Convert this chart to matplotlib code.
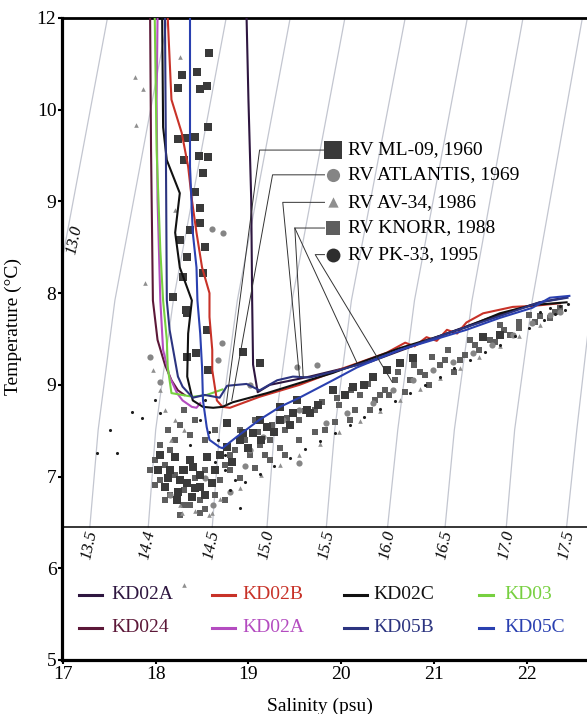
import matplotlib
matplotlib.use('Agg')
import matplotlib.pyplot as plt

plt.rcParams['font.family'] = ['Liberation Serif', 'DejaVu Serif']

# CTD profiles (salinity, temperature)
kd02a_s = [18.98, 19.00, 19.03, 19.04, 19.05, 19.10, 19.23, 19.66, 20.31, 20.95, 21.60, 22.14, 22.41]
kd02a_t = [12.0, 11.11, 10.02, 8.92, 8.22, 7.92, 8.00, 8.09, 8.25, 8.49, 8.73, 8.90, 8.95]
kd02b_s = [18.13, 18.17, 18.28, 18.35, 18.39, 18.44, 18.50, 18.58, 18.58, 18.61, 18.61, 18.66, 18.72, 18.80,
           19.12, 19.55, 20.02, 20.49, 20.69, 20.79, 20.92, 21.03, 21.14, 21.25, 21.35, 21.53, 21.85, 22.06, 22.36]
kd02b_t = [12.0, 11.11, 10.75, 10.38, 10.02, 9.66, 9.28, 9.00, 8.74, 8.38, 8.16, 7.83, 7.76, 7.75,
           7.87, 8.00, 8.18, 8.35, 8.46, 8.42, 8.52, 8.48, 8.60, 8.56, 8.68, 8.78, 8.85, 8.86, 8.89]
kd02c_s = [18.07, 18.08, 18.12, 18.26, 18.21, 18.26, 18.39, 18.35, 18.34, 18.40, 18.51, 18.62, 18.72, 18.83,
           19.20, 19.55, 19.91, 20.28, 20.63, 20.99, 21.35, 21.71, 22.06, 22.43]
kd02c_t = [12.0, 10.81, 10.45, 10.09, 9.66, 9.28, 8.92, 8.56, 8.09, 7.83, 7.76, 7.75, 7.76, 7.81,
           7.91, 8.02, 8.13, 8.27, 8.40, 8.51, 8.63, 8.78, 8.87, 8.90]
kd03_s = [17.99, 18.01, 18.05, 18.08, 18.12, 18.13, 18.17, 18.40, 18.55, 18.72]
kd03_t = [12.0, 10.56, 9.47, 8.92, 8.49, 8.19, 7.91, 7.87, 7.89, 7.95]
kd024_s = [17.94, 17.95, 17.97, 18.02, 18.10, 18.17, 18.24, 18.31]
kd024_t = [12.0, 10.56, 8.92, 8.49, 8.22, 8.05, 7.94, 7.89]
kd02a2_s = [18.02, 18.01, 18.02, 18.05, 18.08, 18.15, 18.23, 18.29, 18.39, 18.44, 18.48]
kd02a2_t = [12.0, 11.11, 10.02, 8.92, 8.38, 8.09, 7.91, 7.83, 7.76, 7.75, 7.80]
kd05b_s = [18.10, 18.11, 18.12, 18.15, 18.24, 18.29, 18.40, 18.53, 18.69, 18.77, 18.98, 19.12, 19.31,
           19.48, 19.66, 19.98, 20.28, 20.63, 21.17, 21.71, 22.14, 22.44]
kd05b_t = [12.0, 10.56, 8.92, 8.60, 8.09, 7.98, 7.86, 7.89, 7.86, 7.99, 8.01, 7.94, 8.05,
           8.09, 8.08, 8.16, 8.25, 8.38, 8.57, 8.75, 8.90, 8.95]
kd05c_s = [18.37, 18.37, 18.40, 18.44, 18.45, 18.48, 18.50, 18.51, 18.55, 18.58, 18.69, 18.72, 18.87,
           19.12, 19.34, 19.55, 19.91, 20.17, 20.63, 20.99, 21.35, 21.71, 22.06, 22.25, 22.46]
kd05c_t = [12.0, 10.38, 9.66, 9.28, 8.92, 8.56, 8.19, 7.83, 7.54, 7.40, 7.32, 7.31, 7.43,
           7.62, 7.76, 7.86, 8.05, 8.19, 8.38, 8.49, 8.60, 8.73, 8.84, 8.95, 8.97]

# historical cruises
ml09_s = [18.57, 18.28, 18.45, 18.24, 18.55, 18.48, 18.34, 18.42, 18.56, 18.24, 18.47, 18.31, 18.51, 18.56,
          18.48, 18.37, 18.48, 18.26, 18.34, 18.51, 18.29, 18.19, 18.33, 18.53, 18.42, 18.34, 18.55, 18.44,
          18.94, 19.12, 18.34, 18.56, 18.21, 18.26, 18.34, 18.40, 18.48, 18.23, 18.39, 18.55, 18.77, 18.91,
          19.05, 19.20, 19.34, 19.48, 19.63, 18.77, 18.94, 19.12, 19.34, 19.52, 19.66, 19.91, 20.13, 20.34,
          20.49, 20.63, 20.77, 21.53, 21.71, 18.15, 18.29, 18.10, 18.37,
          18.05, 18.13, 18.31, 18.42, 18.53, 18.64, 18.69, 18.82, 18.24, 18.48, 18.61, 18.02, 18.99, 19.14,
          19.28, 19.45, 19.75, 20.04, 20.25]
ml09_t = [11.62, 11.38, 11.41, 11.24, 11.26, 11.23, 10.69, 10.70, 10.81, 10.68, 10.50, 10.45, 10.31, 10.48,
          9.93, 9.69, 9.76, 9.58, 9.39, 9.22, 9.18, 8.96, 8.82, 9.50, 10.10, 8.78, 8.60, 8.35,
          8.36, 8.24, 8.30, 8.16, 7.21, 6.96, 6.93, 7.10, 6.89, 6.74, 6.78, 7.21, 7.32, 7.40,
          7.47, 7.54, 7.62, 7.69, 7.73, 7.58, 7.47, 7.62, 7.76, 7.83, 7.69, 7.94, 7.98, 8.09,
          8.16, 8.24, 8.29, 8.52, 8.54, 7.07, 7.07, 6.89, 7.18,
          7.23, 6.98, 7.07, 6.87, 6.80, 7.07, 7.23, 7.16, 6.83, 7.02, 6.93, 7.07, 7.31, 7.40,
          7.49, 7.56, 7.78, 7.89, 8.00]
atl_s = [18.61, 18.73, 18.72, 17.94, 19.02, 18.05, 18.67, 19.52, 19.74, 19.55, 19.37, 19.16, 19.02, 19.55,
         19.84, 20.06, 20.34, 20.56, 20.77, 20.99, 21.20, 21.42, 21.63, 21.85, 22.06, 22.25, 22.36,
         18.15, 18.62, 18.80, 18.53, 18.96]
atl_t = [9.70, 9.66, 8.46, 8.30, 8.00, 8.03, 8.27, 8.19, 8.22, 7.73, 7.62, 7.43, 7.29, 7.15,
         7.58, 7.69, 7.80, 7.94, 8.05, 8.16, 8.25, 8.35, 8.43, 8.54, 8.67, 8.76, 8.79,
         6.80, 6.69, 6.83, 6.98, 7.11]
av34_s = [17.78, 17.86, 17.79, 17.88, 18.26, 18.21, 17.97, 18.05, 18.10, 18.21, 18.31, 18.17,
          18.26, 18.42, 18.58, 18.69, 18.91, 19.14, 19.34, 19.55, 19.77, 19.98, 20.20, 20.42, 20.63,
          20.85, 21.06, 21.28, 21.49, 21.71, 21.92, 22.14, 18.31, 18.28, 18.61]
av34_t = [11.36, 11.23, 10.83, 9.11, 11.57, 9.91, 8.16, 7.94, 7.73, 7.62, 7.51, 7.40,
          6.69, 6.63, 6.58, 6.76, 6.87, 7.02, 7.13, 7.23, 7.35, 7.49, 7.61, 7.71, 7.83,
          7.95, 8.07, 8.18, 8.30, 8.42, 8.53, 8.65, 5.82, 6.60, 6.60]
knorr_s = [18.91, 19.07, 19.23, 19.39, 19.55, 19.72, 19.82, 19.98, 20.09, 20.20, 20.31, 20.47, 20.58, 20.69,
           20.85, 20.95, 21.06, 21.22, 21.33, 21.49, 21.66, 21.82, 21.92, 22.09, 22.25, 19.02, 19.18, 19.34,
           19.55, 19.72, 19.93, 20.15, 20.36, 20.52, 20.74, 20.90, 21.12, 21.28, 21.44, 21.60, 21.76, 21.92,
           22.14, 22.30, 18.85, 19.12,
           18.05, 18.15, 18.10, 18.21, 18.31, 18.42, 18.53, 18.05, 18.15, 18.37, 18.48, 18.64, 18.75, 18.21,
           18.26, 18.42, 18.31, 18.53, 18.64, 18.26, 18.48, 17.99, 18.37, 18.80, 18.69, 18.13,
           18.96, 19.10, 19.25, 19.42, 19.61, 19.79, 19.96, 20.11, 20.29, 20.42, 20.61, 20.79, 20.98, 21.15,
           21.39, 18.80, 18.91, 19.07, 19.23, 19.39, 17.94, 17.99, 18.10, 18.31, 18.53, 18.75,
           21.71, 22.03, 22.36]
knorr_t = [7.51, 7.62, 7.40, 7.51, 7.62, 7.73, 7.51, 7.78, 7.62, 7.89, 7.73, 7.94, 8.05, 7.92,
           8.14, 8.00, 8.22, 8.14, 8.33, 8.38, 8.47, 8.54, 8.62, 8.68, 8.73, 7.23, 7.23, 7.31,
           7.40, 7.49, 7.59, 7.73, 7.83, 7.89, 8.05, 8.11, 8.27, 8.27, 8.43, 8.49, 8.60, 8.68,
           8.75, 8.79, 7.29, 7.34,
           7.34, 7.29, 7.13, 7.02, 6.85, 6.98, 7.07, 6.96, 6.80, 6.69, 6.74, 6.80, 7.13, 7.40,
           7.56, 7.62, 7.73, 7.40, 7.51, 6.58, 6.60, 7.18, 7.45, 7.23, 6.96, 7.51,
           7.40, 7.49, 7.56, 7.64, 7.71, 7.81, 7.86, 7.94, 8.01, 7.89, 8.14, 8.22, 8.30, 8.38,
           8.49, 7.07, 6.98, 7.09, 7.18, 7.23, 7.07, 6.91, 6.74, 6.69, 6.65, 6.74,
           8.65, 8.76, 8.84]
pk33_s = [18.80, 18.96, 19.12, 19.28, 19.45, 19.61, 19.77, 19.93, 20.09, 20.25, 20.42, 20.58, 20.74, 20.90,
          21.06, 21.22, 21.39, 21.55, 21.71, 21.87, 22.03, 22.19, 22.30, 22.41, 22.25, 22.36, 22.44, 22.14,
          17.37, 17.51, 17.58, 17.74, 17.85, 17.99, 18.05,
          18.48, 18.58, 18.37, 18.64, 18.75, 18.85, 18.53, 18.67, 18.91, 18.75]
pk33_t = [6.85, 6.94, 7.03, 7.11, 7.20, 7.30, 7.39, 7.47, 7.56, 7.65, 7.74, 7.82, 7.91, 8.00,
          8.09, 8.18, 8.27, 8.36, 8.44, 8.53, 8.62, 8.71, 8.77, 8.82, 8.84, 8.86, 8.88, 8.79,
          7.26, 7.51, 7.26, 7.70, 7.64, 7.83, 7.69,
          7.62, 7.49, 7.34, 7.16, 7.07, 6.96, 7.83, 7.40, 6.66, 7.23]

# isopycnals: salinity where each crosses the temperature levels
iso_t = [12.0, 8.92, 7.51, 6.45]
iso_labels = ['13.0', '13.5', '14.4', '14.5', '15.0', '15.5', '16.0', '16.5', '17.0', '17.5']
iso_s = [
    [17.48, 16.91, 16.66, 16.56],
    [18.13, 17.56, 17.38, 17.29],
    [18.76, 18.19, 18.00, 17.92],
    [19.45, 18.88, 18.69, 18.61],
    [20.04, 19.47, 19.28, 19.20],
    [20.69, 20.11, 19.93, 19.84],
    [21.36, 20.79, 20.61, 20.50],
    [21.96, 21.41, 21.22, 21.12],
    [22.60, 22.06, 21.87, 21.78],
    [23.25, 22.70, 22.54, 22.43],
]

y_ticklabels = ['5', '6', '7', '9', '8', '9', '10', '12']

fig = plt.figure(figsize=(5.87, 7.14), dpi=100)
ax = fig.add_axes([62 / 587, 54 / 714, 525 / 587, 642 / 714])
ax.set_xlim(16.99, 22.65)
ax.set_ylim(5, 12)

# density grid
for k, ss in enumerate(iso_s):
    ax.plot(ss, iso_t, color='#c3c6d0', lw=0.9, zorder=1)
    if k > 0:
        ax.text(ss[-1] + 0.03, iso_t[-1] - 0.04, iso_labels[k], rotation=78, rotation_mode='anchor',
                ha='right', va='center', fontsize=12, style='italic', zorder=5)
ax.text(17.13, 9.58, iso_labels[0], rotation=78, ha='center', va='center', fontsize=12, style='italic')
ax.axhline(6.45, color='black', lw=1.1, zorder=4)

# scatter from earlier cruises
ax.scatter(knorr_s, knorr_t, marker='s', s=20, color='#5e5e5e', lw=0, zorder=2)
ax.scatter(av34_s, av34_t, marker='^', s=11, color='#8f8f8f', lw=0, zorder=2)
ax.scatter(atl_s, atl_t, marker='o', s=20, color='#858585', lw=0, zorder=2)
ax.scatter(ml09_s, ml09_t, marker='s', s=36, color='#3a3a3a', lw=0, zorder=2)
ax.scatter(pk33_s, pk33_t, marker='o', s=5, color='#1e1e1e', lw=0, zorder=2)

# CTD profiles
profiles = [
    (kd024_s, kd024_t, '#5c1838', 'KD024'),
    (kd02a2_s, kd02a2_t, '#b44cc0', 'KD02A'),
    (kd03_s, kd03_t, '#77d040', 'KD03'),
    (kd02a_s, kd02a_t, '#2e1640', 'KD02A'),
    (kd02b_s, kd02b_t, '#c83228', 'KD02B'),
    (kd02c_s, kd02c_t, '#111111', 'KD02C'),
    (kd05b_s, kd05b_t, '#2c3480', 'KD05B'),
    (kd05c_s, kd05c_t, '#2a40b0', 'KD05C'),
]
for ss, tt, c, name in profiles:
    ax.plot(ss, tt, color=c, lw=1.5, zorder=3)

# cruise legend with leader lines
rv_names = ['RV ML-09, 1960', 'RV ATLANTIS, 1969', 'RV AV-34, 1986', 'RV KNORR, 1988', 'RV PK-33, 1995']
rv_markers = ['s', 'o', '^', 's', 'o']
rv_sizes = [170, 90, 55, 115, 100]
rv_colors = ['#3a3a3a', '#858585', '#8f8f8f', '#5e5e5e', '#2e2e2e']
rv_t = [10.56, 10.29, 9.99, 9.71, 9.42]
leaders = [
    [(19.82, 10.56), (19.12, 10.56), (18.76, 7.78)],
    [(19.82, 10.29), (19.26, 10.29), (18.82, 7.83)],
    [(19.82, 9.99), (19.37, 9.99), (19.55, 8.09)],
    [(19.82, 9.71), (19.50, 9.71), (19.59, 8.09)],
    [(19.50, 9.71), (20.17, 8.24)],
    [(19.82, 9.42), (19.72, 9.42), (20.55, 8.03)],
]
for pts in leaders:
    ax.plot([p[0] for p in pts], [p[1] for p in pts], color='#333333', lw=0.7, zorder=6)
for name, m, sz, c, t in zip(rv_names, rv_markers, rv_sizes, rv_colors, rv_t):
    ax.scatter([19.91], [t], marker=m, s=sz, color=c, lw=0, zorder=7)
    ax.text(20.07, t, name, fontsize=14, va='center', ha='left', zorder=7)

# profile legend
leg_cols = [(17.17, 17.42, 17.52), (18.61, 18.85, 18.94), (20.03, 20.28, 20.35), (21.49, 21.64, 21.76)]
leg_rows = [5.71, 5.35]
leg_order = [[3, 4, 5, 2], [0, 1, 6, 7]]
for r, row in enumerate(leg_order):
    for c, idx in enumerate(row):
        x0, x1, xt = leg_cols[c]
        col = profiles[idx][2]
        ax.plot([x0, x1], [leg_rows[r], leg_rows[r]], color=col, lw=2.2, zorder=5)
        ax.text(xt, leg_rows[r], profiles[idx][3], color=col, fontsize=14, va='center', ha='left')

# axes styling
ax.spines['right'].set_visible(False)
ax.spines['left'].set_linewidth(2.3)
ax.spines['bottom'].set_linewidth(2.3)
ax.spines['top'].set_linewidth(2.0)
ax.set_xticks([17, 18, 19, 20, 21, 22])
ax.set_xticklabels(['17', '18', '19', '20', '21', '22'])
ax.set_yticks([5, 6, 7, 8, 9, 10, 11, 12])
ax.set_yticklabels(y_ticklabels)
ax.tick_params(axis='both', labelsize=14, length=3, width=1.5, pad=1)
ax.set_xlabel('Salinity (psu)', fontsize=14)
ax.set_ylabel('Temperature (°C)', fontsize=14)
ax.xaxis.set_label_coords(0.491, -0.058)
ax.yaxis.set_label_coords(-0.076, 0.52)

fig.savefig('out.png', dpi=100)
